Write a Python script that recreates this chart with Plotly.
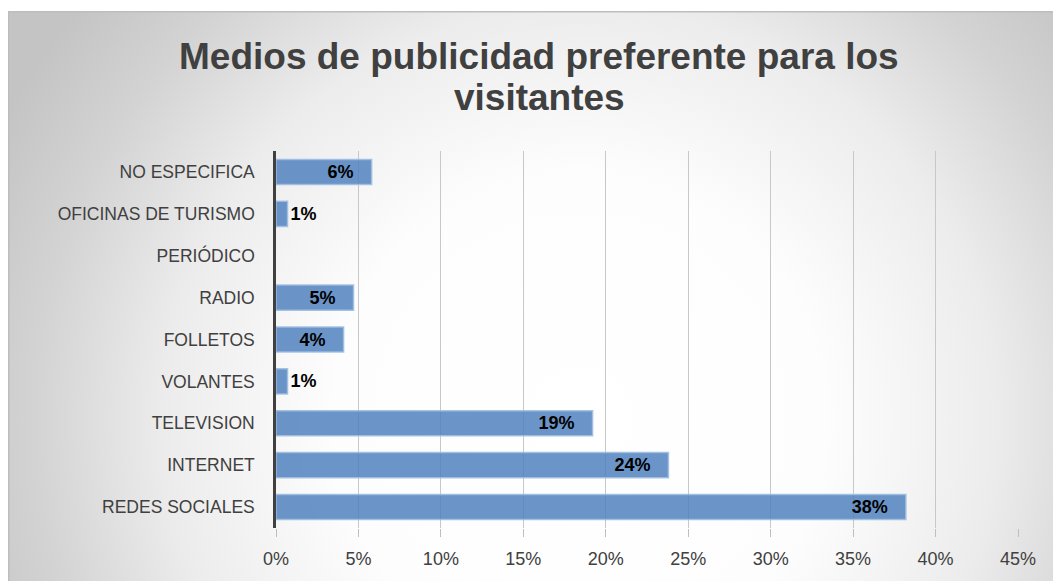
import base64
import plotly.graph_objects as go

# Survey results: preferred advertising channel (percent of visitors)
categories = ["REDES SOCIALES", "INTERNET", "TELEVISION", "VOLANTES", "FOLLETOS",
              "RADIO", "PERIÓDICO", "OFICINAS DE TURISMO", "NO ESPECIFICA"]
values = [38.2, 23.8, 19.2, 0.7, 4.1, 4.7, 0.0, 0.7, 5.8]
x_ticks = [0, 5, 10, 15, 20, 25, 30, 35, 40, 45]
title_lines = ["Medios de publicidad preferente para los", "visitantes"]

W, H = 1053, 581
L, R, T, B = 276, 35, 151, 53
FX, FY = 8, 11  # chart frame offset inside the page

NB = "\u00a0"
labels = [(f"{v:.0f}%" + (NB * 3 if v >= 3 else "")) if v > 0 else "" for v in values]
positions = ["inside" if v >= 3 else "outside" for v in values]
edge_widths = [1.5 if v > 0 else 0 for v in values]

# Radial grey-to-white backdrop with a thin top/left frame, as an inline SVG
bw, bh = W - FX + 10, H - FY + 10
svg = f"""<svg xmlns='http://www.w3.org/2000/svg' width='{bw}' height='{bh}' viewBox='0 0 {bw} {bh}' preserveAspectRatio='none'>
<defs><radialGradient id='g' gradientUnits='userSpaceOnUse' cx='{580 - FX}' cy='{420 - FY}' r='650'>
<stop offset='0' stop-color='#ffffff'/><stop offset='0.38' stop-color='#fdfdfd'/>
<stop offset='0.64' stop-color='#ececec'/><stop offset='0.84' stop-color='#d3d3d3'/>
<stop offset='1' stop-color='#c4c4c4'/></radialGradient></defs>
<rect x='0' y='0' width='{bw}' height='{bh}' fill='url(#g)'/>
<rect x='0.75' y='0.75' width='{bw + 5}' height='{bh + 5}' fill='none' stroke='#bdbdbd' stroke-width='1.5'/>
</svg>"""
src = "data:image/svg+xml;base64," + base64.b64encode(svg.encode()).decode()

pw, ph = W - L - R, H - T - B


def px_x(x):
    return (x - L) / pw


def px_y(y):
    return 1 - (y - T) / ph


fig = go.Figure(go.Bar(
    y=categories, x=values, orientation="h",
    marker=dict(color="rgba(79,129,189,0.84)",
                line=dict(color="rgba(160,190,225,0.9)", width=edge_widths)),
    text=labels, textposition=positions, insidetextanchor="end",
    textfont=dict(family="Liberation Sans, Arial, sans-serif", size=18, color="#000000"),
    texttemplate="<b>%{text}</b>", constraintext="none", cliponaxis=False,
))

fig.add_layout_image(dict(
    source=src, xref="paper", yref="paper",
    x=px_x(FX), y=px_y(FY), sizex=bw / pw, sizey=bh / ph,
    sizing="stretch", xanchor="left", yanchor="top", layer="below",
))

# Two-line chart title
for text, yc in zip(title_lines, [56, 97]):
    fig.add_annotation(
        text=f"<b>{text}</b>", xref="paper", yref="paper",
        x=px_x(539), y=px_y(yc), xanchor="center", yanchor="middle",
        showarrow=False,
        font=dict(family="Liberation Sans, Arial, sans-serif", size=37, color="#404040"),
    )

fig.update_layout(
    width=W, height=H,
    margin=dict(l=L, r=R, t=T, b=B),
    paper_bgcolor="#ffffff", plot_bgcolor="rgba(0,0,0,0)",
    bargap=0.4, showlegend=False,
    xaxis=dict(
        range=[0, 45], tickvals=x_ticks, ticktext=[f"{t}%" for t in x_ticks],
        showgrid=True, gridcolor="#c8c8c8", gridwidth=1,
        ticks="outside", ticklen=8, tickcolor="#bfbfbf",
        zeroline=False, showline=False,
        tickfont=dict(family="Liberation Sans, Arial, sans-serif", size=18, color="#404040"),
        ticklabelstandoff=6,
    ),
    yaxis=dict(
        showgrid=False, showline=True, linecolor="#404040", linewidth=2.5,
        ticks="", ticklabelstandoff=15,
        tickfont=dict(family="Liberation Sans, Arial, sans-serif", size=17.5, color="#404040"),
    ),
)

fig.write_html("out.html")
